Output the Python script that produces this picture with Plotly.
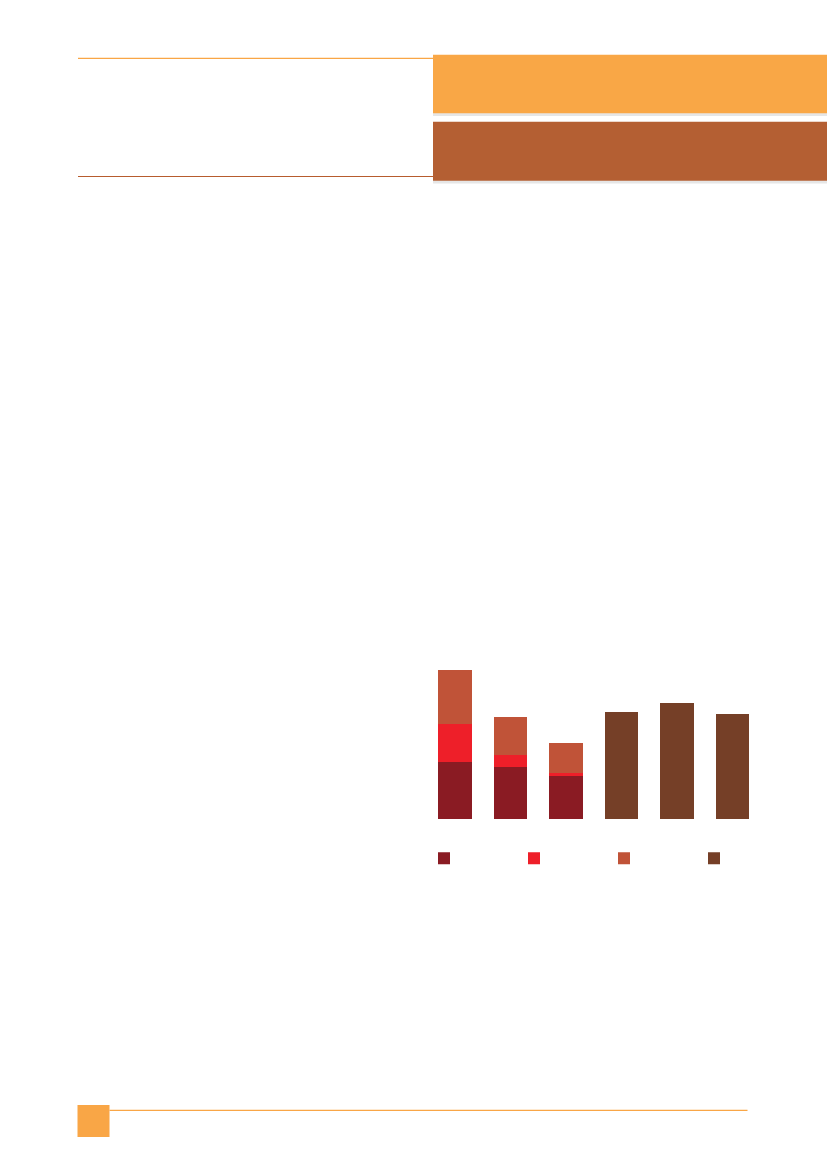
import plotly.graph_objects as go

# six columns, four stacked series (no labels visible in the reference)
categories = [0, 1, 2, 3, 4, 5]
dark_red = [57, 52, 43, None, None, None]
bright_red = [38, 12, 3, None, None, None]
orange_red = [54, 38, 30, None, None, None]
brown = [None, None, None, 107, 116, 105]

W, H = 827, 1169


def px(x):
    return x / W


def py(y):
    return 1 - y / H


fig = go.Figure()
fig.add_trace(go.Bar(x=categories, y=dark_red, name="", marker_color="#8A1B23"))
fig.add_trace(go.Bar(x=categories, y=bright_red, name=" ", marker_color="#EE1F29"))
fig.add_trace(go.Bar(x=categories, y=orange_red, name="  ", marker_color="#C05338"))
fig.add_trace(go.Bar(x=categories, y=brown, name="   ", marker_color="#753F27"))
fig.update_traces(marker_line_width=0)

paper = dict(xref="paper", yref="paper")
shapes = [
    # header rules
    dict(type="line", x0=px(78), x1=px(433), y0=py(58.3), y1=py(58.3),
         line=dict(color="#F9A646", width=1.2), **paper),
    dict(type="line", x0=px(78), x1=px(433), y0=py(176.5), y1=py(176.5),
         line=dict(color="#B75C2E", width=1.2), **paper),
    # header bands with soft shadow
    dict(type="rect", x0=px(433), x1=px(827), y0=py(56), y1=py(116),
         fillcolor="#E6E6E6", line_width=0, layer="below", **paper),
    dict(type="rect", x0=px(433), x1=px(827), y0=py(54.7), y1=py(113.3),
         fillcolor="#F9A746", line_width=0, **paper),
    dict(type="rect", x0=px(433), x1=px(827), y0=py(123), y1=py(183.5),
         fillcolor="#E6E6E6", line_width=0, layer="below", **paper),
    dict(type="rect", x0=px(433), x1=px(827), y0=py(121.7), y1=py(180.7),
         fillcolor="#B45F33", line_width=0, **paper),
    # footer
    dict(type="rect", x0=px(77.5), x1=px(109.5), y0=py(1105), y1=py(1137),
         fillcolor="#F9A646", line_width=0, **paper),
    dict(type="line", x0=px(109.5), x1=px(747.5), y0=py(1110.3), y1=py(1110.3),
         line=dict(color="#F9A646", width=1.2), **paper),
]

fig.update_layout(
    width=W, height=H,
    margin=dict(l=0, r=0, t=0, b=0),
    paper_bgcolor="white", plot_bgcolor="white",
    barmode="stack", bargap=0.4,
    xaxis=dict(domain=[px(427.3), px(760.1)], range=[-0.5, 5.5],
               visible=False, fixedrange=True),
    yaxis=dict(domain=[py(819.3), py(669.3)], range=[0, 150],
               visible=False, fixedrange=True),
    showlegend=True,
    legend=dict(orientation="h", x=px(424), xanchor="left",
                y=py(858.3), yanchor="middle", entrywidth=45,
                traceorder="normal", font=dict(family="Noto Sans", size=10),
                bgcolor="rgba(0,0,0,0)"),
    shapes=shapes,
)

fig.write_html("out.html", config={"displayModeBar": False},
               post_script="document.body.style.margin='0';")
